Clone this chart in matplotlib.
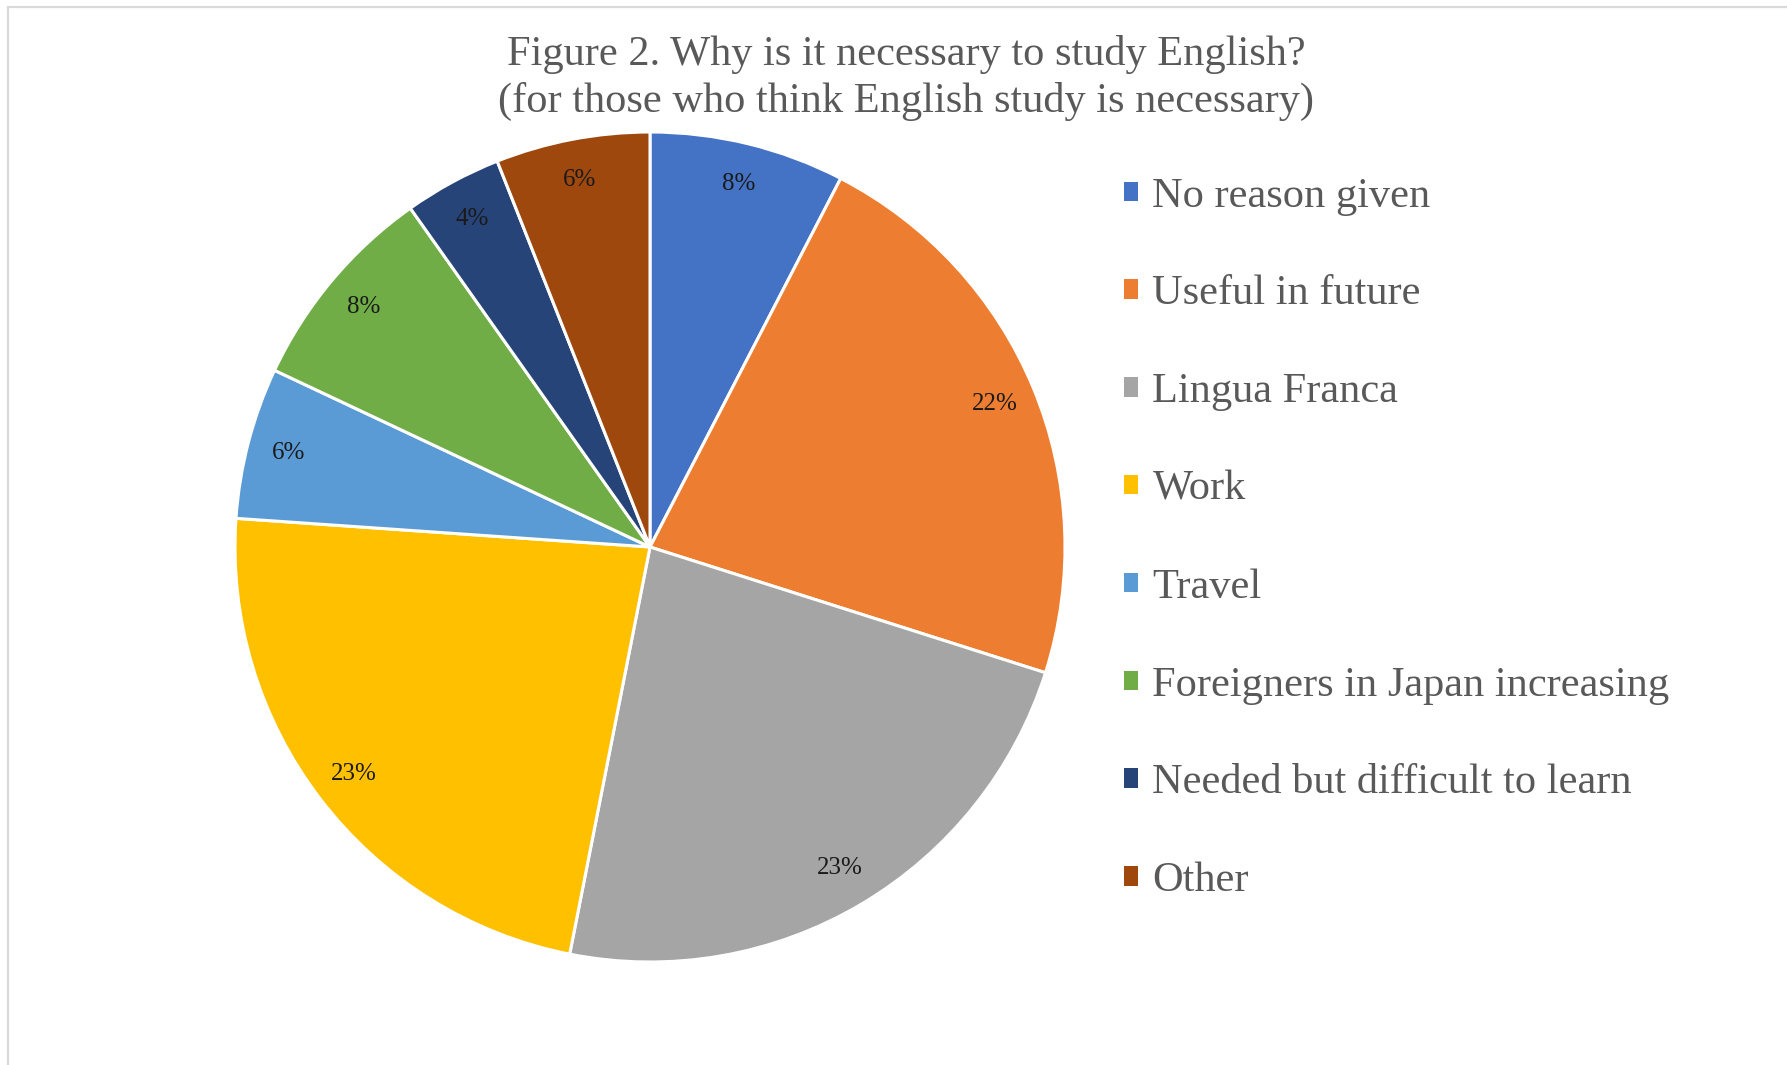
import matplotlib.pyplot as plt
from matplotlib.patches import Rectangle, Patch

# reasons and share of answers (%)
reasons = ["No reason given", "Useful in future", "Lingua Franca", "Work",
           "Travel", "Foreigners in Japan increasing",
           "Needed but difficult to learn", "Other"]
shares = [7.6, 22.3, 23.2, 23.0, 5.9, 8.2, 3.8, 6.0]
colors = ["#4472C4", "#ED7D31", "#A5A5A5", "#FFC000",
          "#5B9BD5", "#70AD47", "#264478", "#9E480E"]

plt.rcParams["font.family"] = ["Liberation Serif", "DejaVu Serif"]

fig = plt.figure(figsize=(17.87, 10.65), dpi=100)

# thin grey frame like the exported chart area
frame = Rectangle((8 / 1787, -0.05), 1.2, 1 - 7 / 1065 + 0.05,
                  transform=fig.transFigure, fill=False,
                  edgecolor="#d9d9d9", linewidth=1.6)
fig.patches.append(frame)

ax = fig.add_axes([235 / 1787, 103 / 1065, 830 / 1787, 830 / 1065])
wedges, texts, autotexts = ax.pie(
    shares, colors=colors, startangle=90, counterclock=False,
    autopct="%.0f%%", pctdistance=0.9,
    wedgeprops={"edgecolor": "white", "linewidth": 2.2},
    textprops={"fontsize": 18, "color": "#1a1a1a"})
ax.set_xlim(-1, 1)
ax.set_ylim(-1, 1)
ax.set_aspect("equal")

fig.text(906 / 1787, 1 - 78 / 1065,
         "Figure 2. Why is it necessary to study English?\n"
         "(for those who think English study is necessary)",
         ha="center", va="center", fontsize=30.5, color="#595959",
         linespacing=1.25)

handles = [Patch(facecolor=c, edgecolor="none") for c in colors]
leg = fig.legend(handles, reasons, loc="upper left",
                 bbox_to_anchor=(1124 / 1787, 1 - 177 / 1065),
                 frameon=False, fontsize=30.5, handlelength=0.33,
                 handleheight=0.33, handletextpad=0.34, labelspacing=1.4,
                 borderaxespad=0, borderpad=0)
for t in leg.get_texts():
    t.set_color("#595959")

fig.savefig("out.png", dpi=100)
